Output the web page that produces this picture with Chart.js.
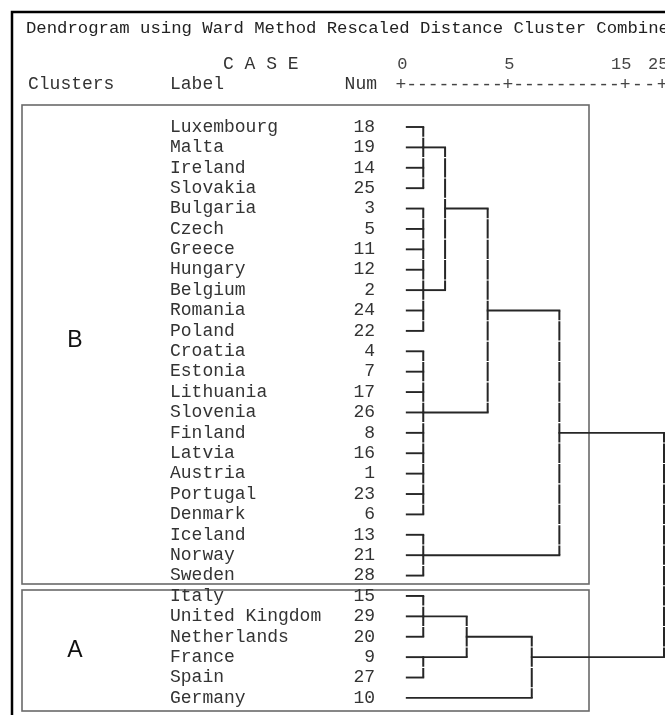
<!DOCTYPE html>
<html>
<head>
<meta charset="utf-8">
<script src="https://cdn.jsdelivr.net/npm/chart.js@4.4.1/dist/chart.umd.min.js"></script>
<style>
html,body{margin:0;padding:0;background:#fff;}
#wrap{width:665px;height:715px;position:relative;}
</style>
</head>
<body>
<div id="wrap"><canvas id="c" width="665" height="715"></canvas></div>
<script>
// ---------------- data ----------------
const caseLabels = ['Luxembourg','Malta','Ireland','Slovakia','Bulgaria','Czech','Greece','Hungary','Belgium','Romania','Poland','Croatia','Estonia','Lithuania','Slovenia','Finland','Latvia','Austria','Portugal','Denmark','Iceland','Norway','Sweden','Italy','United Kingdom','Netherlands','France','Spain','Germany'];
const caseNums = [18,19,14,25,3,5,11,12,2,24,22,4,7,17,26,8,16,1,23,6,13,21,28,15,29,20,9,27,10];
const clusterNames = ['B','A'];
const clusterFirstRow = [0,23];
const clusterLastRow = [22,28];
const axisTickValues = [0,5,10.47,12.2];
const axisTickLabels = ['0','5','15','25'];
const leafStart = 0.27;
// merge nodes: children are leaf row indices (numbers) or merge ids (strings)
const mergeIds = ['m1','m2','m3','m4','m5','m6','m7','m8','m9','m10','m11','m12'];
const mergeChildren = [
  [0,1,2,3],
  [4,5,6,7,8,9,10],
  ['m1','m2'],
  [11,12,13,14,15,16,17,18,19],
  ['m3','m4'],
  [20,21,22],
  ['m5','m6'],
  [23,24,25],
  [26,27],
  ['m8','m9'],
  ['m10',28],
  ['m7','m11']
];
const mergeHeights = [1.04,1.04,2.06,1.04,4.05,1.04,7.40,1.04,1.04,3.07,6.11,12.29];
const mergeOutRows = [1,8,4,14,9,21,15,24,26,25,26,null];

// ---------------- layout constants ----------------
const W = 665, H = 715;
const ROW0 = 127, ROWPX = 20.39;        // pixel of row 0, px per row
const X0 = 401, XPX = 21.4;             // pixel of distance 0, px per unit
const yMin = -ROW0 / ROWPX, yMax = (H - ROW0) / ROWPX;
const xMin = -X0 / XPX, xMax = (W - X0) / XPX;
const LINE = '#262626';
const MONO = "'Courier New', 'Liberation Mono', monospace";

// ---------------- build dendrogram segments ----------------
const nodeX = {}, nodeRow = {};
mergeIds.forEach((id, i) => { nodeX[id] = mergeHeights[i]; nodeRow[id] = mergeOutRows[i]; });
const childX = c => typeof c === 'number' ? leafStart : nodeX[c];
const childRow = c => typeof c === 'number' ? c : nodeRow[c];

const GAP = 1.1;
const datasets = [];
mergeIds.forEach((id, i) => {
  const h = mergeHeights[i];
  const rows = mergeChildren[i].map(childRow);
  mergeChildren[i].forEach(c => {
    datasets.push({
      data: [{x: childX(c), y: childRow(c)}, {x: h, y: childRow(c)}],
      borderColor: LINE, borderWidth: 1.9, borderCapStyle: 'square'
    });
  });
  datasets.push({
    data: [{x: h, y: Math.min(...rows)}, {x: h, y: Math.max(...rows)}],
    borderColor: LINE, borderWidth: 2,
    borderDash: [ROWPX - GAP, GAP], borderDashOffset: ROWPX / 2 - GAP / 2
  });
});
datasets.forEach(d => { d.showLine = true; d.pointRadius = 0; d.fill = false; d.tension = 0; d.clip = false; });

// ---------------- text / decoration plugin ----------------
const decor = {
  id: 'decor',
  beforeDatasetsDraw(chart) {
    const {ctx} = chart;
    ctx.save();
    // outer frame
    ctx.strokeStyle = '#000'; ctx.lineWidth = 2.5;
    ctx.beginPath(); ctx.moveTo(12, H + 2); ctx.lineTo(12, 12); ctx.lineTo(W + 2, 12); ctx.stroke();
    // cluster boxes
    ctx.strokeStyle = '#6a6a6a'; ctx.lineWidth = 1.6;
    const boxTop = [105, 590], boxBot = [584, 711];
    clusterNames.forEach((n, i) => {
      ctx.strokeRect(22, boxTop[i], 589 - 22, boxBot[i] - boxTop[i]);
    });
    ctx.restore();
  },
  afterDatasetsDraw(chart) {
    const {ctx, scales: {x, y}} = chart;
    ctx.save();
    ctx.textBaseline = 'middle';
    // title
    ctx.fillStyle = '#222';
    ctx.font = `17.3px ${MONO}`;
    ctx.textAlign = 'left';
    ctx.fillText('Dendrogram using Ward Method Rescaled Distance Cluster Combine', 26, 28);
    // headers
    ctx.font = `18px ${MONO}`;
    ctx.fillStyle = '#333';
    ctx.fillText('C A S E', 223, 64);
    ctx.fillText('Clusters', 28, 84);
    ctx.fillText('Label', 170, 84);
    ctx.textAlign = 'right';
    ctx.fillText('Num', 377, 84);
    // axis header
    const cw = 10.8;
    const tp = axisTickValues.map(v => x.getPixelForValue(v));
    ctx.textAlign = 'center';
    ctx.fillStyle = '#444';
    tp.forEach((p, i) => {
      ctx.fillText('+', p, 85);
      if (i < tp.length - 1) {
        const n = Math.max(1, Math.round((tp[i + 1] - p) / cw) - 1);
        const step = (tp[i + 1] - p) / (n + 1);
        for (let k = 1; k <= n; k++) ctx.fillText('-', p + k * step, 85);
      }
    });
    ctx.font = `17px ${MONO}`;
    ctx.textAlign = 'right';
    tp.forEach((p, i) => ctx.fillText(axisTickLabels[i], p + cw / 2 + 1, 64));
    // case rows
    ctx.font = `18px ${MONO}`;
    ctx.fillStyle = '#333';
    caseLabels.forEach((lab, i) => {
      const py = y.getPixelForValue(i);
      ctx.textAlign = 'left';
      ctx.fillText(lab, 170, py);
      ctx.textAlign = 'right';
      ctx.fillText(String(caseNums[i]), 375, py);
    });
    // cluster letters
    ctx.font = "23px 'Liberation Sans', Arial, sans-serif";
    ctx.fillStyle = '#111';
    ctx.textAlign = 'center';
    const letterRows = [10.45, 25.65];
    clusterNames.forEach((n, i) => {
      ctx.fillText(n, 75, y.getPixelForValue(letterRows[i]) + 1);
    });
    ctx.restore();
  }
};

new Chart(document.getElementById('c'), {
  type: 'scatter',
  data: { datasets },
  options: {
    responsive: false,
    animation: false,
    events: [],
    layout: { padding: 0 },
    plugins: { legend: { display: false }, tooltip: { enabled: false }, title: { display: false } },
    scales: {
      x: { type: 'linear', min: xMin, max: xMax, display: false },
      y: { type: 'linear', min: yMin, max: yMax, reverse: true, display: false }
    }
  },
  plugins: [decor]
});
</script>
</body>
</html>
